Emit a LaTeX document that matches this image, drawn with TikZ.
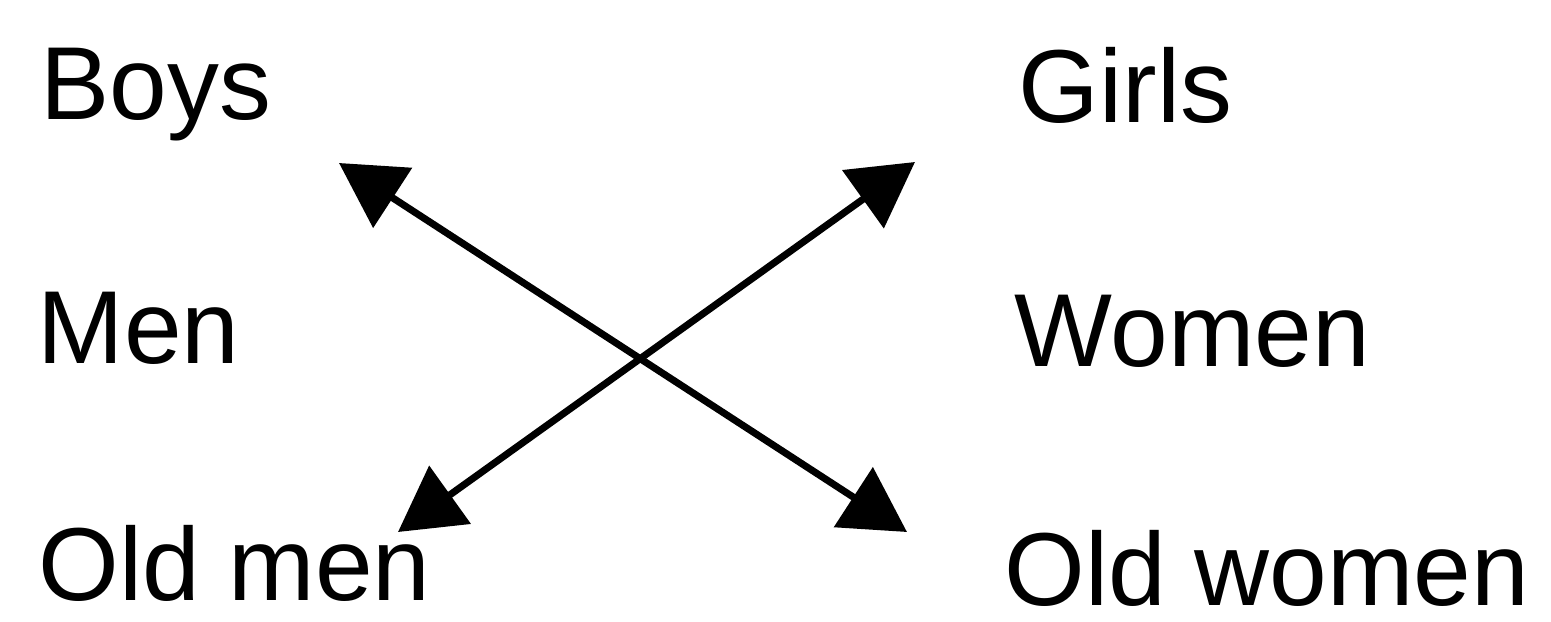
\documentclass[tikz,border=0pt]{standalone}
\usepackage{fontspec}
\setmainfont{Liberation Sans}
\usepackage{tikz}
\usetikzlibrary{arrows.meta}

\begin{document}
\begin{tikzpicture}[x=0.01cm,y=-0.01cm,
    word/.style={anchor=base west,inner sep=0pt,font=\fontsize{29.5}{34}\selectfont},
    cross/.style={{Triangle[length=0.64cm,width=0.7cm]}-{Triangle[length=0.64cm,width=0.7cm]},line width=2pt}]
      \useasboundingbox (0,0) rectangle (1551,621);
      \node[word] (boys) at (40,120) {Boys};
      \node[word] (men) at (37,363) {Men};
      \node[word] (oldmen) at (38,600) {Old men};
      \node[word] (girls) at (1018,122) {Girls};
      \node[word] (women) at (1014,366) {Women};
      \node[word] (oldwomen) at (1004,605) {Old women};
      \coordinate (b1) at (339,163);
      \coordinate (b2) at (907,532);
      \coordinate (g1) at (915,162);
      \coordinate (g2) at (398,532);
      \draw[cross] (b1)--(b2);
      \draw[cross] (g2)--(g1);
    \end{tikzpicture}
\end{document}
